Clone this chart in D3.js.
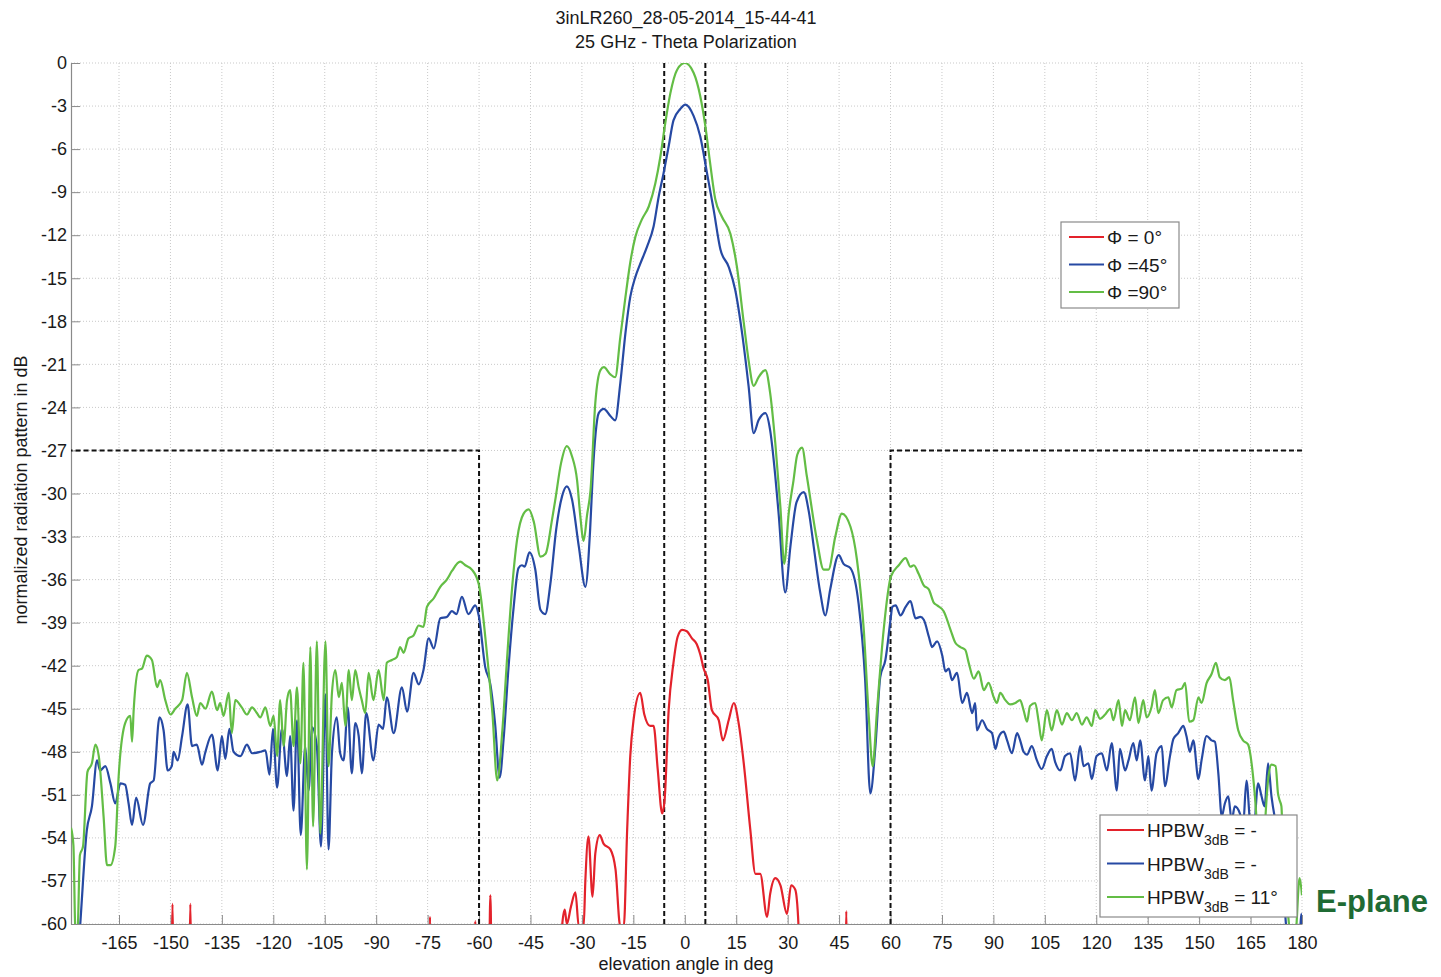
<!DOCTYPE html>
<html>
<head>
<meta charset="utf-8">
<script src="https://cdn.jsdelivr.net/npm/d3@7"></script>
<style>
  body { margin: 0; background: #fff; }
  text { font-family: "Liberation Sans", Arial, sans-serif; fill: #1a1a1a; }
</style>
</head>
<body>
<div id="chart"></div>
<script>
// angle (deg), normalized pattern (dB)
const phi0 = [
  [-179,-65],[-149.8,-65],[-149.4,-58.6],[-149.0,-65],[-144.6,-65],[-144.2,-58.6],[-143.8,-65],
  [-74.6,-65],[-74.3,-59.5],[-74.0,-65],[-61.5,-65],[-61.1,-59.8],[-60.7,-65],
  [-57.2,-65],[-56.7,-58],[-56.2,-65],[-36.4,-65],
  [-35.8,-60.2],[-35.0,-59.0],[-34.4,-60.0],[-33.2,-58.8],[-31.9,-57.8],[-30.9,-60.2],[-29.5,-60.2],
  [-29.0,-57.0],[-28.1,-53.9],[-26.9,-58.1],[-26.1,-55.1],[-24.8,-53.8],[-23.7,-54.4],[-21.7,-54.8],
  [-20.2,-56.2],[-18.8,-60.2],[-17.8,-60.2],[-16.8,-53.4],[-15.9,-48.3],[-14.9,-45.7],[-13.0,-43.9],
  [-11.8,-45.4],[-10.1,-46.2],[-9.1,-46.2],[-7.9,-49.2],[-6.6,-52.3],[-5.9,-51.4],[-4.7,-45.1],
  [-3.3,-41.8],[-2.1,-40.0],[-0.8,-39.5],[0.6,-39.6],[2.1,-40.1],[3.5,-40.5],[4.5,-41.2],[5.5,-42.2],
  [6.7,-43.0],[7.9,-45.1],[9.9,-45.8],[11.1,-47.2],[12.8,-45.8],[14.3,-44.6],[15.7,-46.0],[17.2,-48.8],
  [19.1,-53.4],[20.6,-56.5],[22.0,-56.5],[24.0,-59.5],[24.9,-57.9],[26.4,-56.8],[27.9,-57.3],
  [29.8,-59.3],[31.0,-57.3],[32.2,-57.6],[33.2,-60.3],[33.8,-65],
  [46.7,-65],[47.1,-59.1],[47.5,-65],[180,-65]
];

const phi45 = [
  [-177.5,-64],[-176.3,-60],[-174.4,-53.5],[-172.9,-51.8],[-171.4,-48.6],[-170.5,-49.3],[-169,-49],
  [-167.5,-50.2],[-166.1,-51.6],[-164.6,-50.2],[-163.2,-50.3],[-162.2,-51.6],[-161.2,-53.1],[-160,-51.2],
  [-158,-53.1],[-155.9,-50.2],[-154.9,-50],[-153.2,-45.6],[-152,-46.5],[-150.8,-49.3],[-149.6,-49],
  [-149.1,-48],[-147.9,-48.6],[-146.6,-46.9],[-145,-44.7],[-143.7,-47.6],[-142.3,-47.5],[-140.8,-48.9],
  [-139.9,-48.1],[-137.9,-46.8],[-136.2,-49.3],[-135,-46.9],[-134,-48.5],[-132.8,-46.4],[-131.6,-48],
  [-129.6,-48.3],[-127.7,-47.5],[-126.2,-48.1],[-123.8,-48],[-122.3,-47.9],[-121.1,-49.6],[-120.1,-46.4],
  [-118.9,-50.5],[-117.5,-46.4],[-116,-49.7],[-115.1,-46.9],[-114.1,-52.1],[-113.1,-45.8],[-112,-53.8],
  [-110.7,-47.6],[-109.7,-50.7],[-108.7,-46.3],[-107.3,-47.6],[-106.1,-54.6],[-104.8,-44],[-103.9,-54.8],
  [-102.9,-48.1],[-101.5,-45.6],[-100.5,-48.1],[-99.5,-48.6],[-98.3,-44.9],[-97.1,-49.5],[-96.1,-46],
  [-95.1,-46.9],[-94.2,-49.5],[-92.9,-45.3],[-90.8,-48.6],[-89.3,-46.1],[-88,-46.4],[-86.9,-44.2],
  [-84.9,-46.7],[-82.5,-43.5],[-81,-45.2],[-79.1,-42.5],[-77.6,-43.3],[-76.2,-42.3],[-74.7,-40.1],
  [-73.2,-40.8],[-71.3,-38.7],[-69.4,-38.6],[-67.9,-38.2],[-66.6,-38.4],[-65,-37.2],[-63.1,-38.4],
  [-61.1,-37.8],[-60.1,-38.5],[-58.2,-42.1],[-56.7,-43.3],[-55.3,-46.1],[-54,-49.8],[-52.8,-47],
  [-51.4,-42.1],[-49.9,-37.9],[-48.5,-35.2],[-47.5,-35],[-46.7,-35.1],[-45.3,-34.1],[-43.6,-35.3],
  [-42.1,-38.1],[-40.7,-38.4],[-39.2,-36.3],[-37.5,-32.5],[-35.8,-30.2],[-34.4,-29.5],[-32.9,-30.4],
  [-30.9,-33.7],[-29,-36.5],[-27.6,-32.5],[-26.8,-28.5],[-26,-25.8],[-25.1,-24.4],[-23.6,-24.1],
  [-21.7,-24.6],[-20.3,-24.9],[-18.8,-22.3],[-17.3,-18.8],[-15.9,-16.3],[-14.4,-14.9],[-13,-14],
  [-11,-12.8],[-9.1,-11.4],[-7.6,-9.3],[-6.2,-7.7],[-4.7,-5.8],[-3.3,-4],[-1.3,-3.2],[0.2,-2.9],
  [2.6,-3.7],[4.5,-5.1],[6.5,-7.7],[8.4,-10.2],[10.4,-13],[12.8,-14.2],[14.7,-15.8],[16.7,-18.8],
  [18.6,-22.5],[20.1,-25.8],[21.5,-24.9],[23.5,-24.4],[24.9,-25.6],[26.4,-28.8],[27.4,-31.5],
  [29.3,-36.9],[30.8,-33.7],[32.6,-30.6],[34.7,-29.9],[36.2,-31.3],[37.6,-33.7],[39.5,-36.9],
  [41,-38.5],[42.4,-36.7],[44.9,-34.3],[46.3,-34.9],[48.3,-35.2],[50.7,-37.7],[52.6,-43],[54.1,-50.9],
  [55.6,-47.6],[57,-42.8],[58.5,-41.6],[60.1,-38.6],[60.5,-37.9],[61.5,-37.8],[62.9,-38.5],
  [64.4,-37.9],[65.8,-37.5],[67.3,-38.7],[68.7,-38.6],[69.7,-38.8],[71.2,-40],[72.1,-40.7],[73.6,-40.3],
  [75.1,-41.3],[76,-42.4],[77,-42.2],[77.9,-43],[79.4,-42.5],[80.9,-44.6],[82.3,-43.9],[83.8,-45.3],
  [84.7,-44.6],[85.2,-46.5],[86.7,-45.8],[88.1,-46.4],[89.6,-46.7],[90.6,-47.8],[91.5,-47],[93,-46.6],
  [94,-47.2],[95.4,-48.1],[96.9,-46.7],[97.8,-47.2],[98.8,-48],[99.8,-48.2],[101.2,-47.6],[102.7,-48.6],
  [104.1,-49.2],[105.6,-48.3],[107,-47.8],[108,-48.7],[109.5,-49.3],[110.9,-48.3],[112.4,-48.1],
  [113.8,-50],[115.3,-47.6],[116.3,-49],[117.7,-48.8],[118.7,-49.9],[120.1,-48.3],[121.6,-48.1],
  [123.1,-49.3],[124.5,-47.4],[126,-50.7],[126.9,-47.8],[128.4,-49.3],[129.4,-48.6],[130.8,-47.4],
  [131.8,-48.6],[132.8,-47.2],[134.2,-50],[135.2,-48.3],[136.1,-50.7],[137.6,-48.1],[139.1,-47.6],
  [140,-50.4],[141.5,-48.3],[142.5,-47.1],[143.9,-46.7],[145.4,-46.2],[146.3,-46.9],[147.3,-48],
  [148.3,-47.2],[149.8,-49.9],[150.7,-48.6],[152.2,-46.9],[153.6,-47.2],[154.6,-47.3],[155.6,-49.5],
  [156.6,-52.5],[157.5,-51.6],[158.5,-51.1],[159.5,-52.8],[160.4,-51.8],[161.9,-52.3],[162.8,-53.2],
  [163.8,-50],[164.8,-52.8],[165.7,-54.2],[167.2,-50.2],[168.2,-51.1],[169.1,-51.8],[170.1,-48.8],
  [171.1,-51.1],[172,-52.5],[173.5,-54],[174.5,-57],[175.5,-60.5],[177,-62],[179.3,-61],[179.8,-59.3],
  [180,-60.5]
];

const phi90 = [
  [-179,-53.3],[-178.3,-54.5],[-177.7,-60.5],[-177.1,-60.5],[-176.4,-55.2],[-175.5,-54.6],[-174.2,-49.4],
  [-172.9,-48.8],[-171.9,-47.5],[-170.9,-48.3],[-169.5,-52.5],[-168.5,-55.9],[-167.5,-55.9],[-166.1,-54.6],
  [-165.1,-49.7],[-163.2,-46],[-161.7,-45.5],[-161.2,-47.3],[-160.7,-45],[-159.3,-42.3],[-158.3,-42.2],
  [-156.9,-41.3],[-155.4,-41.6],[-153.9,-43.5],[-153,-43],[-151.5,-44.4],[-150,-45.4],[-148.6,-45],
  [-146.6,-44.4],[-145.2,-42.5],[-143.7,-44.2],[-142.3,-45.5],[-141.3,-44.6],[-139.8,-45],[-137.9,-43.8],
  [-136.4,-45.1],[-135.5,-44.6],[-134.5,-45.5],[-133,-43.9],[-132.1,-46.7],[-131.1,-44.4],[-129.2,-44.9],
  [-127.7,-45.4],[-126.2,-44.9],[-124.8,-45.3],[-123.8,-45.6],[-122.3,-44.9],[-120.9,-46.2],
  [-119.9,-45.5],[-118.9,-48.3],[-118,-44.4],[-117,-47.6],[-116,-44.4],[-115.1,-43.7],[-114.1,-47.6],
  [-113.1,-43.5],[-112.1,-48.8],[-111.2,-41.8],[-110.2,-56.2],[-109.2,-40.7],[-108.4,-53.2],[-107.3,-40.3],
  [-106.3,-53.7],[-104.8,-40.3],[-103.9,-49],[-102.9,-43.9],[-101.9,-42.3],[-100.9,-44.2],[-100,-43.2],
  [-99,-46.2],[-98,-42.3],[-97.1,-44.4],[-96.1,-42.3],[-95.1,-43.5],[-94.2,-44.4],[-93.2,-45.3],
  [-92.2,-42.5],[-90.8,-44.4],[-89.3,-42.3],[-87.8,-44.4],[-86.9,-41.8],[-85.4,-41.6],[-84,-41.4],
  [-83,-40.7],[-82,-41.1],[-80.6,-40.1],[-79.1,-39.9],[-77.6,-39.2],[-76.2,-39.3],[-75.2,-37.9],
  [-73.2,-37.3],[-71.3,-36.5],[-69.4,-36],[-67.9,-35.4],[-65.5,-34.75],[-64,-35],[-62.1,-35.3],
  [-60.1,-36.3],[-57.6,-41.4],[-56.1,-45.3],[-54.7,-50],[-53.2,-46.5],[-51.8,-41.4],[-50.4,-36.7],
  [-48.9,-33.2],[-47,-31.4],[-45.5,-31.1],[-44,-32],[-42.1,-34.4],[-40.6,-34.2],[-38.7,-31.8],
  [-37.8,-30.5],[-36.1,-27.9],[-34.4,-26.7],[-32.9,-27.4],[-31.4,-29.1],[-30.5,-31.5],[-29.5,-33.3],
  [-28.5,-31.5],[-27.5,-29.8],[-26.1,-23.7],[-24.6,-21.4],[-23.6,-21.2],[-21.7,-21.7],[-20.3,-21.9],
  [-18.8,-19.1],[-17.3,-16.3],[-15.9,-13.9],[-14.4,-12.1],[-12.5,-10.9],[-10.5,-10],[-8.6,-8.4],
  [-7.1,-6.5],[-5.7,-4.2],[-4.2,-2.1],[-2.3,-0.5],[0,0],[2.6,-0.7],[4.5,-2.3],[6,-4.4],[7.4,-7],
  [8.9,-9.5],[10.8,-10.7],[13.3,-11.9],[15.2,-14.2],[17.2,-18.1],[18.6,-20.7],[20.1,-22.5],[21.5,-21.9],
  [23.5,-21.4],[24.9,-23],[26.4,-26.5],[27.9,-31],[29,-34.9],[30.3,-31.4],[31.7,-29.1],[32.8,-27.3],
  [34.2,-26.8],[35.6,-28.8],[38.5,-33.2],[40.5,-35.3],[41.9,-35.3],[43.9,-33],[45.8,-31.4],[48.3,-32.3],
  [50.2,-34.6],[52.2,-39.5],[53.6,-45.3],[54.8,-49],[56,-45.3],[58,-39.5],[60.1,-35.8],[62.4,-35],
  [64.4,-34.5],[65.8,-35.1],[66.8,-35],[68.2,-35.6],[69.7,-36.4],[71.2,-36.7],[72.6,-37.6],[73.6,-37.8],
  [75.5,-38.2],[77.5,-39.5],[78.9,-40.4],[80.4,-40.7],[81.8,-40.9],[82.8,-41.8],[84.3,-42.9],[85.7,-42.4],
  [87.2,-43.7],[88.6,-43.2],[90.1,-44.2],[91,-44.6],[92,-43.9],[93.5,-44.4],[94.9,-44.7],[96.4,-44.6],
  [97.8,-44.4],[98.8,-45.1],[99.8,-45.9],[100.7,-44.8],[102.2,-44.6],[103.2,-45.9],[104.1,-47.2],
  [105.6,-45.1],[107,-46.5],[108.5,-45.1],[110,-46.1],[111.4,-45.3],[112.9,-45.8],[114.3,-45.3],
  [115.8,-46.1],[117.2,-45.6],[118.7,-46.2],[119.7,-45.1],[121.1,-45.7],[122.6,-45.4],[124.1,-45],
  [125,-45.8],[126.5,-44.4],[127.5,-46.2],[128.4,-45.1],[129.8,-45.8],[131.3,-44.2],[132.3,-46],
  [133.7,-44.4],[134.7,-45.6],[136.1,-44.9],[137.1,-43.7],[138.1,-45.3],[139.5,-44.4],[141,-44.2],
  [142,-44.9],[143.4,-43.7],[144.9,-43.6],[145.9,-43.2],[147.1,-45.9],[148.3,-45.8],[149.8,-44.2],
  [150.7,-44.6],[152.2,-43.2],[153.6,-42.6],[154.9,-41.8],[156,-42.8],[157.5,-43],[158.8,-42.8],
  [159.9,-44.4],[161.4,-46.5],[162.8,-47.2],[164.3,-47.5],[165.3,-48.8],[166.2,-50.9],[167.2,-54.2],
  [168.4,-57.2],[169.4,-52.3],[170.1,-50],[171.1,-48.9],[172.3,-49],[173,-50.9],[173.5,-51.4],
  [174,-51.8],[174.5,-55.3],[175.5,-58],[176.5,-60.5],[178,-61],[179.3,-56.8],[180,-58]
];

// mask and beam-width markers
const maskLeft = [[-180,-27],[-60,-27],[-60,-60]];
const maskRight = [[60,-60],[60,-27],[180,-27]];
const beamLines = [-6, 6];

const xTicks = d3.range(-165, 181, 15);
const yTicks = d3.range(-60, 1, 3);

const series = [
  { name: "\u03A6 = 0\u00B0",  hpbw: " = -",   data: phi0,  color: "#e3222b" },
  { name: "\u03A6 =45\u00B0",  hpbw: " = -",   data: phi45, color: "#2649a3" },
  { name: "\u03A6 =90\u00B0",  hpbw: " = 11\u00B0", data: phi90, color: "#63bd45" }
];

const W = 1441, H = 977;
const plot = { left: 71, right: 1302, top: 63, bottom: 924 };

const svg = d3.select("#chart").append("svg")
  .attr("width", W).attr("height", H)
  .style("background", "#fff");

const x = d3.scaleLinear().domain([-179, 180]).range([plot.left, plot.right]);
const y = d3.scaleLinear().domain([-60, 0]).range([plot.bottom, plot.top]);

svg.append("defs").append("clipPath").attr("id", "clip")
  .append("rect")
  .attr("x", plot.left).attr("y", plot.top)
  .attr("width", plot.right - plot.left).attr("height", plot.bottom - plot.top);

// grid
const grid = svg.append("g").attr("stroke", "#c9c9c9").attr("stroke-width", 1)
  .attr("stroke-dasharray", "1,2");
xTicks.forEach(t => {
  grid.append("line").attr("x1", x(t)).attr("x2", x(t))
    .attr("y1", plot.top).attr("y2", plot.bottom);
});
yTicks.forEach(t => {
  grid.append("line").attr("x1", plot.left).attr("x2", plot.right)
    .attr("y1", y(t)).attr("y2", y(t));
});

// axes (ticks pointing inward, like the original); plain hyphen for negatives
const fmt = d => String(d);
const xAxis = svg.append("g")
  .attr("transform", `translate(0,${plot.bottom})`)
  .call(d3.axisBottom(x).tickValues(xTicks).tickFormat(fmt)
    .tickSizeInner(-9).tickSizeOuter(0).tickPadding(16));
const yAxis = svg.append("g")
  .attr("transform", `translate(${plot.left},0)`)
  .call(d3.axisLeft(y).tickValues(yTicks).tickFormat(fmt)
    .tickSizeInner(-9).tickSizeOuter(0).tickPadding(4));

[xAxis, yAxis].forEach(a => {
  a.select(".domain").attr("stroke", "#8a8a8a").attr("stroke-width", 1.2);
  a.selectAll(".tick line").attr("stroke", "#8a8a8a");
  a.selectAll(".tick text")
    .style("font-family", '"Liberation Sans", Arial, sans-serif')
    .style("font-size", "18px").attr("fill", "#1a1a1a");
});
xAxis.selectAll(".tick text").attr("dy", "0.5em");

// dashed markers
const line = d3.line().x(d => x(d[0])).y(d => y(d[1]));
const dashed = svg.append("g").attr("clip-path", "url(#clip)")
  .attr("fill", "none").attr("stroke", "#111").attr("stroke-width", 2)
  .attr("stroke-dasharray", "5,3");
dashed.append("path").attr("d", line(maskLeft));
dashed.append("path").attr("d", line(maskRight));
beamLines.forEach(b => {
  dashed.append("path").attr("d", line([[b, 0], [b, -60]]));
});

// pattern curves
const curveLine = d3.line().x(d => x(d[0])).y(d => y(d[1])).curve(d3.curveMonotoneX);
const curves = svg.append("g").attr("clip-path", "url(#clip)").attr("fill", "none");
series.forEach(s => {
  curves.append("path")
    .attr("d", curveLine(s.data))
    .attr("stroke", s.color)
    .attr("stroke-width", 2.2)
    .attr("stroke-linejoin", "round");
});

// titles
svg.append("text").attr("x", 686).attr("y", 24).attr("text-anchor", "middle")
  .style("font-size", "18px").text("3inLR260_28-05-2014_15-44-41");
svg.append("text").attr("x", 686).attr("y", 48).attr("text-anchor", "middle")
  .style("font-size", "18px").text("25 GHz - Theta Polarization");
svg.append("text").attr("x", 686).attr("y", 970).attr("text-anchor", "middle")
  .style("font-size", "18px").text("elevation angle in deg");
svg.append("text")
  .attr("transform", "translate(27,490) rotate(-90)")
  .attr("text-anchor", "middle")
  .style("font-size", "18px").text("normalized radiation pattern in dB");

// legend: phi
const leg1 = svg.append("g");
leg1.append("rect").attr("x", 1061).attr("y", 222).attr("width", 118).attr("height", 86)
  .attr("fill", "#fff").attr("stroke", "#8a8a8a").attr("stroke-width", 1.2);
series.forEach((s, i) => {
  const ly = 237 + i * 27.5;
  leg1.append("line").attr("x1", 1069).attr("x2", 1104).attr("y1", ly).attr("y2", ly)
    .attr("stroke", s.color).attr("stroke-width", 2.2);
  leg1.append("text").attr("x", 1107).attr("y", ly + 7)
    .style("font-size", "19px").text(s.name);
});

// legend: HPBW
const leg2 = svg.append("g");
leg2.append("rect").attr("x", 1100).attr("y", 815).attr("width", 197).attr("height", 102)
  .attr("fill", "#fff").attr("stroke", "#8a8a8a").attr("stroke-width", 1.2);
series.forEach((s, i) => {
  const ly = 830 + i * 33.5;
  leg2.append("line").attr("x1", 1107).attr("x2", 1144).attr("y1", ly).attr("y2", ly)
    .attr("stroke", s.color).attr("stroke-width", 2.2);
  const t = leg2.append("text").attr("x", 1147).attr("y", ly + 7).style("font-size", "19px");
  t.append("tspan").text("HPBW");
  t.append("tspan").attr("dy", 8).style("font-size", "14px").text("3dB");
  t.append("tspan").attr("dy", -8).text(s.hpbw);
});

svg.append("text").attr("x", 1316).attr("y", 912)
  .style("font-size", "31px").style("font-weight", "bold")
  .style("fill", "#1f6b34")
  .text("E-plane");
</script>
</body>
</html>
